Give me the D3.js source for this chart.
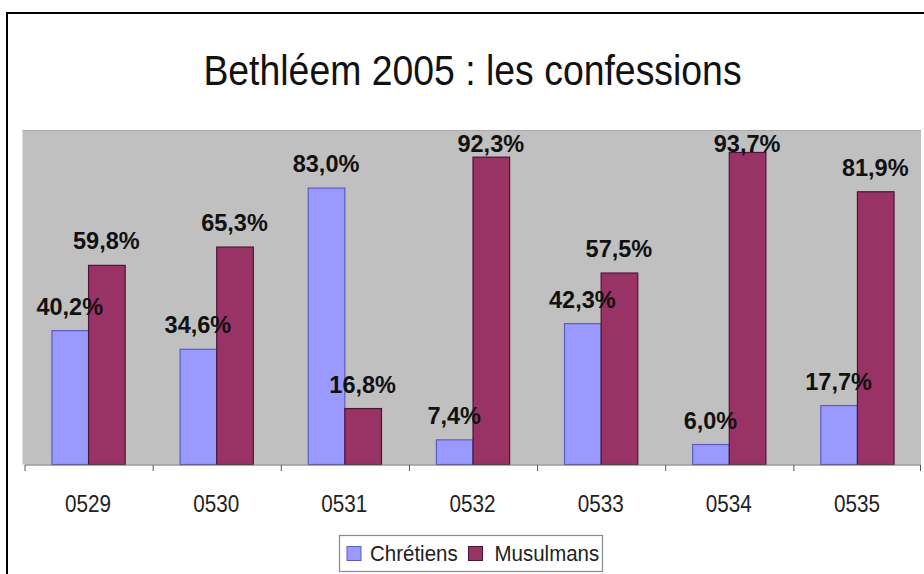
<!DOCTYPE html>
<html>
<head>
<meta charset="utf-8">
<script src="https://cdn.jsdelivr.net/npm/d3@7"></script>
<style>
  html, body { margin: 0; padding: 0; background: #ffffff; }
  svg { display: block; }
  text { font-family: "Liberation Sans", Arial, sans-serif; }
</style>
</head>
<body>
<svg id="chart" width="924" height="574"></svg>
<script>
const title = "Bethléem 2005 : les confessions";
const categories = ["0529", "0530", "0531", "0532", "0533", "0534", "0535"];
const seriesNames = ["Chrétiens", "Musulmans"];
const chretiens = [40.2, 34.6, 83.0, 7.4, 42.3, 6.0, 17.7];
const musulmans = [59.8, 65.3, 16.8, 92.3, 57.5, 93.7, 81.9];
const yDomain = [0, 100];

const colors = { "Chrétiens": "#9999ff", "Musulmans": "#993366" };
const strokes = { "Chrétiens": "#5c5cc4", "Musulmans": "#4a1636" };

const svg = d3.select("#chart");

// outer chart border
svg.append("rect").attr("x", 7).attr("y", 13).attr("width", 940).attr("height", 620)
  .attr("fill", "#ffffff").attr("stroke", "#000").attr("stroke-width", 2);

const plot = { left: 24, right: 921, top: 130, bottom: 464.5 };

const x0 = d3.scaleBand().domain(categories).range([plot.left, plot.right]).paddingInner(0).paddingOuter(0);
const x1 = d3.scaleBand().domain(seriesNames).range([0, x0.bandwidth()]).paddingInner(0).paddingOuter(0.75);
const y = d3.scaleLinear().domain(yDomain).range([plot.bottom, 131.5]);

// plot area
svg.append("rect").attr("x", 22.5).attr("y", plot.top).attr("width", plot.right - 22.5).attr("height", plot.bottom - plot.top)
  .attr("fill", "#c0c0c0");
svg.append("line").attr("x1", 22.5).attr("x2", plot.right).attr("y1", plot.top + 0.5).attr("y2", plot.top + 0.5)
  .attr("stroke", "#aaaaaa").attr("stroke-width", 1);

// title
svg.append("text").attr("transform", "translate(472.5,85) scale(1,1.12)")
  .attr("text-anchor", "middle").attr("font-size", 37.4).attr("fill", "#111")
  .text(title);

const data = categories.map((c, i) => ({
  cat: c,
  values: [
    { name: "Chrétiens", value: chretiens[i] },
    { name: "Musulmans", value: musulmans[i] }
  ]
}));

const groups = svg.append("g").selectAll("g").data(data).join("g")
  .attr("transform", d => `translate(${x0(d.cat)},0)`);

groups.selectAll("rect").data(d => d.values).join("rect")
  .attr("x", d => x1(d.name) + 0.5)
  .attr("y", d => y(d.value))
  .attr("width", x1.bandwidth())
  .attr("height", d => plot.bottom - y(d.value))
  .attr("fill", d => colors[d.name])
  .attr("stroke", d => strokes[d.name])
  .attr("stroke-width", 1.2);

const fmt = v => v.toFixed(1).replace(".", ",") + "%";
groups.selectAll("text.lbl").data(d => d.values).join("text")
  .attr("class", "lbl")
  .attr("x", d => x1(d.name) + x1.bandwidth() / 2)
  .attr("y", d => Math.max(y(d.value) - 16, 152))
  .attr("text-anchor", "middle")
  .attr("font-size", 23.5).attr("font-weight", "bold").attr("fill", "#111")
  .text(d => fmt(d.value));

// axis
const axisG = svg.append("g");
axisG.append("line").attr("x1", 25).attr("x2", plot.right).attr("y1", 465).attr("y2", 465)
  .attr("stroke", "#6a6a6a").attr("stroke-width", 1);
const bounds = categories.map(c => x0(c)).concat([x0(categories[categories.length - 1]) + x0.bandwidth()]);
axisG.selectAll("line.tick").data(bounds).join("line").attr("class", "tick")
  .attr("x1", d => Math.min(d + 1, plot.right - 0.5)).attr("x2", d => Math.min(d + 1, plot.right - 0.5))
  .attr("y1", 465).attr("y2", 471).attr("stroke", "#555").attr("stroke-width", 1);
axisG.selectAll("text").data(categories).join("text")
  .attr("transform", d => `translate(${x0(d) + x0.bandwidth() / 2},512) scale(1,1.12)`)
  .attr("text-anchor", "middle").attr("font-size", 20.7).attr("fill", "#222")
  .text(d => d);

// legend
const lg = svg.append("g");
lg.append("rect").attr("x", 339.5).attr("y", 535.5).attr("width", 263).attr("height", 36)
  .attr("fill", "#fff").attr("stroke", "#8a8a8a").attr("stroke-width", 1.2);
const legendItems = [
  { name: seriesNames[0], sx: 347, tx: 370 },
  { name: seriesNames[1], sx: 468.5, tx: 494.5 }
];
lg.selectAll("rect.sw").data(legendItems).join("rect").attr("class", "sw")
  .attr("x", d => d.sx).attr("y", 546.5).attr("width", 14).attr("height", 14)
  .attr("fill", d => colors[d.name]).attr("stroke", d => strokes[d.name]).attr("stroke-width", 1);
lg.selectAll("text").data(legendItems).join("text")
  .attr("transform", d => `translate(${d.tx},561) scale(1,1.12)`)
  .attr("font-size", 20.5).attr("fill", "#222")
  .text(d => d.name);
</script>
</body>
</html>
